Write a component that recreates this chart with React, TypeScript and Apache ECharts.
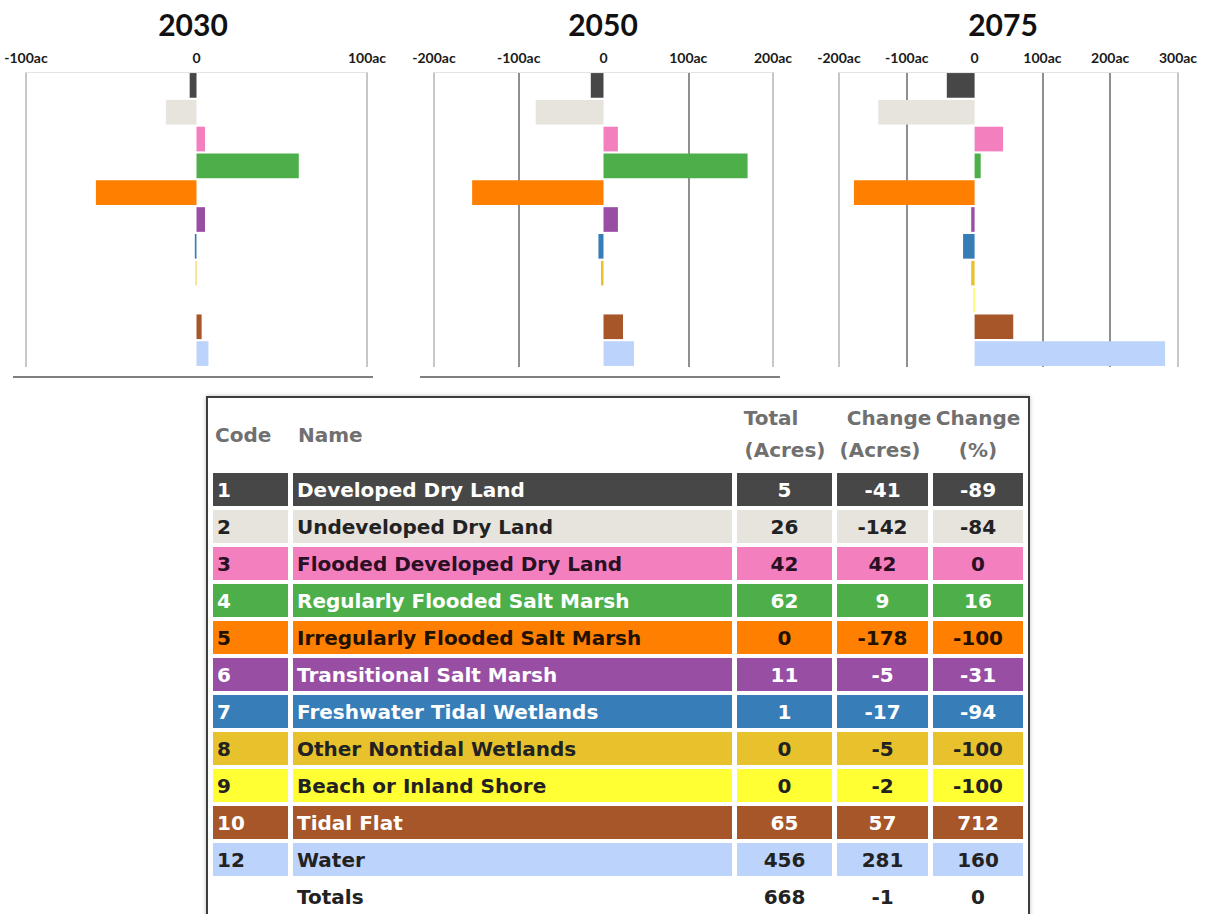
import React, { useEffect, useRef } from 'react';
import * as echarts from 'echarts';

// ---------- data ----------
const codes = ['1', '2', '3', '4', '5', '6', '7', '8', '9', '10', '12'];
const names = [
  'Developed Dry Land',
  'Undeveloped Dry Land',
  'Flooded Developed Dry Land',
  'Regularly Flooded Salt Marsh',
  'Irregularly Flooded Salt Marsh',
  'Transitional Salt Marsh',
  'Freshwater Tidal Wetlands',
  'Other Nontidal Wetlands',
  'Beach or Inland Shore',
  'Tidal Flat',
  'Water',
];
const classColors = ['#474747', '#e7e3dd', '#f47fbf', '#4caf4a', '#ff7f00', '#984ea3', '#377eb8', '#e8c22c', '#ffff33', '#a65628', '#bcd3fb'];
const textColors = ['#ffffff', '#222222', '#2a1024', '#ffffff', '#221100', '#ffffff', '#ffffff', '#222222', '#222222', '#ffffff', '#222222'];

const years = ['2030', '2050', '2075'];
const change2030 = [-4, -18, 5, 60, -59, 5, -1, -0.5, 0, 3, 7];
const change2050 = [-15, -80, 17, 170, -155, 17, -6, -3, 0, 23, 36];
const change2075 = [-41, -142, 42, 9, -178, -5, -17, -5, -2, 57, 281];
const axisMin = [-100, -200, -200];
const axisMax = [100, 200, 300];

const tableTotalAcres = [5, 26, 42, 62, 0, 11, 1, 0, 0, 65, 456];
const tableChangeAcres = [-41, -142, 42, 9, -178, -5, -17, -5, -2, 57, 281];
const tableChangePct = [-89, -84, 0, 16, -100, -31, -94, -100, -100, 712, 160];
const totalsLabel = 'Totals';
const totalsRow = [668, -1, 0];
const headerCols = [['Code'], ['Name'], ['Total', '(Acres)'], ['Change', '(Acres)'], ['Change', '(%)']];

// ---------- layout ----------
const gridBoxes = [
  { left: 26, width: 341 },
  { left: 434, width: 339 },
  { left: 839, width: 339 },
];
const GRID_TOP = 72;
const GRID_H = 295;
const titleX = [193, 603, 1003];

const cellX = [213, 293, 737, 837, 933];
const cellW = [75, 439, 95, 91, 90];
const ROW0 = 473;
const ROW_STEP = 37;
const ROW_H = 33;

function splitColors(min: number, max: number) {
  const out: string[] = [];
  for (let v = min; v <= max; v += 100) {
    if (v === 0) out.push('rgba(0,0,0,0)');
    else if (v === min || v === max) out.push('#b4b4b4');
    else out.push('#6a6a6a');
  }
  return out;
}

export default function App() {
  const ref = useRef<HTMLDivElement>(null);
  useEffect(() => {
    if (!ref.current) return;
    const chart = echarts.init(ref.current, null, { renderer: 'svg' });
    const seriesData = [change2030, change2050, change2075];

    const grids = gridBoxes.map((g) => ({ left: g.left, width: g.width, top: GRID_TOP, height: GRID_H }));
    const xAxes = gridBoxes.map((_, i) => ({
      type: 'value',
      gridIndex: i,
      position: 'top',
      min: axisMin[i],
      max: axisMax[i],
      interval: 100,
      axisLine: { show: true, lineStyle: { color: '#e4e4e4', width: 1 } },
      axisTick: { show: false },
      axisLabel: {
        margin: 8,
        fontFamily: 'Lato',
        fontWeight: 'bold',
        fontSize: 14,
        color: '#1a1a1a',
        formatter: (v: number) => (v === 0 ? '0' : `${v}ac`),
      },
      splitLine: { show: true, lineStyle: { color: splitColors(axisMin[i], axisMax[i]), width: 1.5 } },
    }));
    const yAxes = gridBoxes.map((_, i) => ({
      type: 'category',
      gridIndex: i,
      data: codes,
      inverse: true,
      axisLine: { show: false },
      axisTick: { show: false },
      axisLabel: { show: false },
      splitLine: { show: false },
    }));
    const series = seriesData.map((vals, i) => ({
      type: 'bar',
      name: years[i],
      xAxisIndex: i,
      yAxisIndex: i,
      barCategoryGap: '8%',
      data: vals.map((v, j) => ({ value: v, itemStyle: { color: classColors[j] } })),
    }));

    const graphics: any[] = [];
    years.forEach((y, i) => {
      graphics.push({
        type: 'text',
        x: titleX[i],
        y: 24,
        style: { text: y, fill: '#111', font: 'bold 30px Lato', textAlign: 'center', textVerticalAlign: 'middle' },
      });
    });
    graphics.push({ type: 'line', shape: { x1: 13, y1: 377, x2: 373, y2: 377 }, style: { stroke: '#555', lineWidth: 1.5 } });
    graphics.push({ type: 'line', shape: { x1: 420, y1: 377, x2: 780, y2: 377 }, style: { stroke: '#555', lineWidth: 1.5 } });

    // table box
    graphics.push({
      type: 'rect',
      shape: { x: 207, y: 397, width: 822, height: 540 },
      style: { fill: '#fff', stroke: '#3c3c3c', lineWidth: 2, shadowBlur: 4, shadowColor: 'rgba(0,0,0,0.25)' },
      z: 1,
    });
    // header
    const headFont = 'bold 20px "DejaVu Sans"';
    const headColor = '#707070';
    graphics.push({ type: 'text', x: 215, y: 435, z: 3, style: { text: headerCols[0][0], fill: headColor, font: headFont, textVerticalAlign: 'middle' } });
    graphics.push({ type: 'text', x: 298, y: 435, z: 3, style: { text: headerCols[1][0], fill: headColor, font: headFont, textVerticalAlign: 'middle' } });
    const headCenters = [[771, 785], [889, 880], [978, 978]];
    for (let c = 2; c < 5; c++) {
      headerCols[c].forEach((t, li) => {
        graphics.push({
          type: 'text',
          x: headCenters[c - 2][li],
          y: li === 0 ? 418 : 450,
          z: 3,
          style: { text: t, fill: headColor, font: headFont, textAlign: 'center', textVerticalAlign: 'middle' },
        });
      });
    }
    const cellFont = 'bold 20px "DejaVu Sans"';
    codes.forEach((code, k) => {
      const top = ROW0 + ROW_STEP * k;
      const cy = top + ROW_H / 2;
      for (let c = 0; c < 5; c++) {
        graphics.push({ type: 'rect', z: 2, shape: { x: cellX[c], y: top, width: cellW[c], height: ROW_H }, style: { fill: classColors[k] } });
      }
      const tc = textColors[k];
      graphics.push({ type: 'text', x: cellX[0] + 4, y: cy, z: 3, style: { text: code, fill: tc, font: cellFont, textVerticalAlign: 'middle' } });
      graphics.push({ type: 'text', x: cellX[1] + 4, y: cy, z: 3, style: { text: names[k], fill: tc, font: cellFont, textVerticalAlign: 'middle' } });
      const nums = [tableTotalAcres[k], tableChangeAcres[k], tableChangePct[k]];
      nums.forEach((n, j) => {
        graphics.push({
          type: 'text',
          x: cellX[j + 2] + cellW[j + 2] / 2,
          y: cy,
          z: 3,
          style: { text: String(n), fill: tc, font: cellFont, textAlign: 'center', textVerticalAlign: 'middle' },
        });
      });
    });
    const totY = ROW0 + ROW_STEP * codes.length + ROW_H / 2;
    graphics.push({ type: 'text', x: cellX[1] + 4, y: totY, z: 3, style: { text: totalsLabel, fill: '#222', font: cellFont, textVerticalAlign: 'middle' } });
    totalsRow.forEach((n, j) => {
      graphics.push({
        type: 'text',
        x: cellX[j + 2] + cellW[j + 2] / 2,
        y: totY,
        z: 3,
        style: { text: String(n), fill: '#222', font: cellFont, textAlign: 'center', textVerticalAlign: 'middle' },
      });
    });

    chart.setOption({
      animation: false,
      backgroundColor: '#ffffff',
      grid: grids,
      xAxis: xAxes,
      yAxis: yAxes,
      series,
      graphic: graphics,
    } as any);
    return () => chart.dispose();
  }, []);
  return (
    <div
      ref={ref}
      style={{ position: 'fixed', left: 0, top: 0, width: 1209, height: 914, background: '#fff' }}
    />
  );
}
